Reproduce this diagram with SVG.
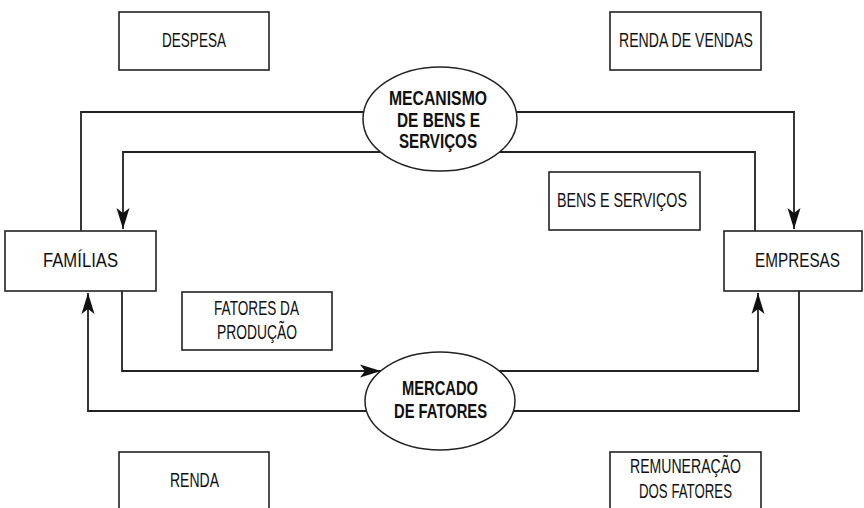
<svg xmlns="http://www.w3.org/2000/svg" width="864" height="508" viewBox="0 0 864 508">
<defs>
<style>
.box{fill:#fff;stroke:#222;stroke-width:1.6}
.ell{fill:#fff;stroke:#222;stroke-width:1.5}
.con{fill:none;stroke:#222;stroke-width:1.8}
.t{font-family:"Liberation Sans",Arial,sans-serif;font-size:20px;fill:#111;text-anchor:middle}
.b{font-family:"Liberation Sans",Arial,sans-serif;font-size:21px;font-weight:bold;fill:#111;text-anchor:middle}
</style>
<marker id="arr" markerUnits="userSpaceOnUse" markerWidth="24" markerHeight="16" viewBox="-22 -8 24 16" refX="0" refY="0" orient="auto">
<path d="M0,0 L-21,-6.5 L-16,0 L-21,6.5 Z" fill="#111"/>
</marker>
</defs>
<rect width="864" height="508" fill="#fff"/>
<g id="connectors">
<polyline class="con" points="81,231 81,112 440,112"/>
<polyline class="con" points="440,152 123,152 123,229" marker-end="url(#arr)"/>
<polyline class="con" points="440,112 794,112 794,229" marker-end="url(#arr)"/>
<polyline class="con" points="440,152 755,152 755,231"/>
<polyline class="con" points="122,291 122,371 381,371" marker-end="url(#arr)"/>
<polyline class="con" points="440,411 88,411 88,293" marker-end="url(#arr)"/>
<polyline class="con" points="440,371 758,371 758,293" marker-end="url(#arr)"/>
<polyline class="con" points="799,291 799,411 440,411"/>
</g>
<g id="despesa"><rect class="box" x="119" y="12" width="150" height="58"/><text class="t" x="194" y="47" textLength="64" lengthAdjust="spacingAndGlyphs">DESPESA</text></g>
<g id="renda-vendas"><rect class="box" x="610" y="12" width="151" height="58"/><text class="t" x="686" y="47" textLength="134" lengthAdjust="spacingAndGlyphs">RENDA DE VENDAS</text></g>
<g id="bens-servicos"><rect class="box" x="549" y="172" width="151" height="58"/><text class="t" x="622" y="207" textLength="130" lengthAdjust="spacingAndGlyphs">BENS E SERVIÇOS</text></g>
<g id="familias"><rect class="box" x="5" y="231" width="151" height="60"/><text class="t" x="80.5" y="267" textLength="75" lengthAdjust="spacingAndGlyphs">FAMÍLIAS</text></g>
<g id="empresas"><rect class="box" x="724" y="231" width="138" height="60"/><text class="t" x="797.5" y="267" textLength="85" lengthAdjust="spacingAndGlyphs">EMPRESAS</text></g>
<g id="fatores-producao"><rect class="box" x="182" y="292" width="150" height="58"/><text class="t" x="256.5" y="315" textLength="85" lengthAdjust="spacingAndGlyphs">FATORES DA</text><text class="t" x="257" y="339" textLength="80" lengthAdjust="spacingAndGlyphs">PRODUÇÃO</text></g>
<g id="renda"><rect class="box" x="119" y="452" width="150" height="60"/><text class="t" x="194.5" y="487" textLength="49" lengthAdjust="spacingAndGlyphs">RENDA</text></g>
<g id="remuneracao"><rect class="box" x="610" y="452" width="151" height="60"/><text class="t" x="685.5" y="473" textLength="111" lengthAdjust="spacingAndGlyphs">REMUNERAÇÃO</text><text class="t" x="685.5" y="498" textLength="93" lengthAdjust="spacingAndGlyphs">DOS FATORES</text></g>
<g id="mecanismo"><ellipse class="ell" cx="440" cy="119" rx="77" ry="52"/><text class="b" x="438" y="105" textLength="98" lengthAdjust="spacingAndGlyphs">MECANISMO</text><text class="b" x="438.5" y="127" textLength="83" lengthAdjust="spacingAndGlyphs">DE BENS E</text><text class="b" x="438" y="148" textLength="78" lengthAdjust="spacingAndGlyphs">SERVIÇOS</text></g>
<g id="mercado"><ellipse class="ell" cx="440" cy="401" rx="75" ry="49"/><text class="b" x="440" y="395" textLength="76" lengthAdjust="spacingAndGlyphs">MERCADO</text><text class="b" x="440.5" y="418" textLength="93" lengthAdjust="spacingAndGlyphs">DE FATORES</text></g>
</svg>
